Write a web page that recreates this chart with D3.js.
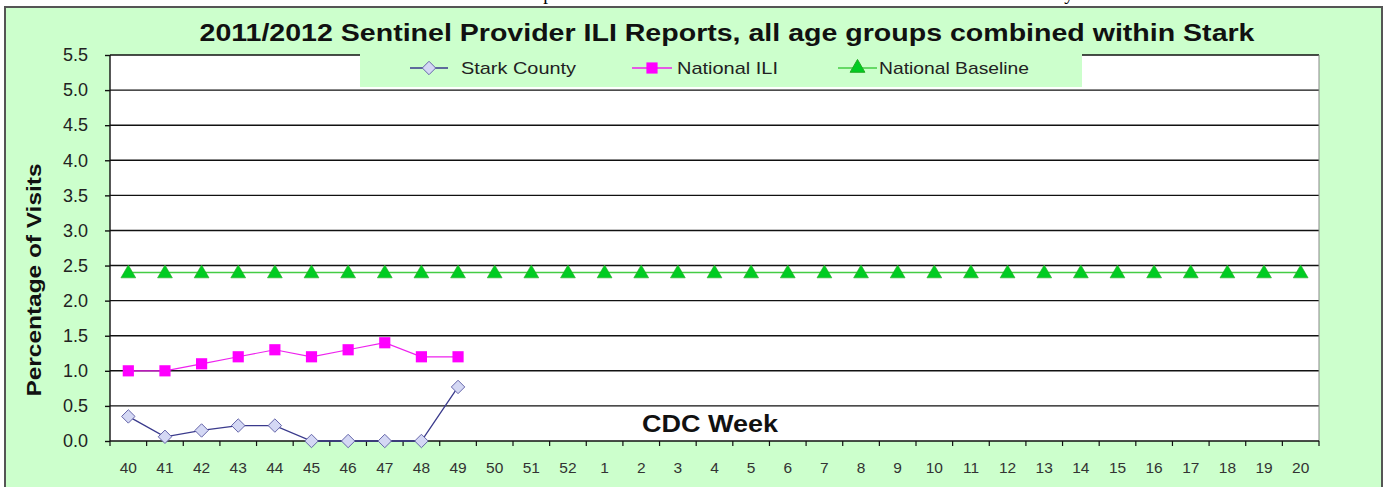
<!DOCTYPE html>
<html>
<head>
<meta charset="utf-8">
<script src="https://cdn.jsdelivr.net/npm/d3@7"></script>
<style>
  body { margin: 0; background: #fff; }
  svg text { font-family: Arial, "Liberation Sans", sans-serif; }
</style>
</head>
<body>
<svg id="chart" width="1386" height="487"></svg>
<script>
// CDC weeks of the 2011/2012 season
const weeks = ["40","41","42","43","44","45","46","47","48","49","50","51","52",
               "1","2","3","4","5","6","7","8","9","10","11","12","13","14","15","16","17","18","19","20"];

// series values (percent of visits)
const starkCounty = [0.35, 0.06, 0.15, 0.22, 0.22, 0.0, 0.0, 0.0, 0.0, 0.77];
const nationalILI = [1.0, 1.0, 1.1, 1.2, 1.3, 1.2, 1.3, 1.4, 1.2, 1.2];
const nationalBaseline = [2.4, 2.4, 2.4, 2.4, 2.4, 2.4, 2.4, 2.4, 2.4, 2.4, 2.4, 2.4, 2.4,
                          2.4, 2.4, 2.4, 2.4, 2.4, 2.4, 2.4, 2.4, 2.4, 2.4, 2.4, 2.4, 2.4,
                          2.4, 2.4, 2.4, 2.4, 2.4, 2.4, 2.4];

const yTicks = [0, 0.5, 1.0, 1.5, 2.0, 2.5, 3.0, 3.5, 4.0, 4.5, 5.0, 5.5];

const svg = d3.select('#chart');
const bg = '#ccffcc';

// plot region
const plotLeft = 110, plotRight = 1319, plotTop = 55, plotBottom = 441;

const x = d3.scaleBand().domain(weeks).range([plotLeft, plotRight]);
const y = d3.scaleLinear().domain([0, 5.5]).range([plotBottom, plotTop]);

// clipped line of text above the chart (only descenders visible, as in the source)
svg.append('text').attr('x', 548).attr('y', 0).attr('text-anchor', 'middle')
    .style('font-family', '"Liberation Serif", "Times New Roman", serif')
    .style('font-size', '19px').text('p');
svg.append('text').attr('x', 1069).attr('y', 0).attr('text-anchor', 'middle')
    .style('font-family', '"Liberation Serif", "Times New Roman", serif')
    .style('font-size', '19px').text('y');

// outer chart area
svg.append('rect')
    .attr('x', 5).attr('y', 7).attr('width', 1377).attr('height', 490)
    .attr('fill', bg).attr('stroke', '#555').attr('stroke-width', 2);

// plot background
svg.append('rect')
    .attr('x', plotLeft).attr('y', plotTop).attr('width', plotRight - plotLeft).attr('height', plotBottom - plotTop)
    .attr('fill', '#fff');

// gridlines
svg.append('g').selectAll('line')
    .data(yTicks.filter(d => d > 0))
    .enter().append('line')
    .attr('x1', plotLeft).attr('x2', plotRight)
    .attr('y1', d => y(d)).attr('y2', d => y(d))
    .attr('stroke', '#111').attr('stroke-width', 1.4);

// right edge of plot
svg.append('line')
    .attr('x1', plotRight).attr('x2', plotRight).attr('y1', plotTop).attr('y2', plotBottom)
    .attr('stroke', '#888').attr('stroke-width', 1);

// y axis
const yAxis = svg.append('g')
    .attr('transform', `translate(${plotLeft},0)`)
    .call(d3.axisLeft(y).tickValues(yTicks).tickFormat(d3.format('.1f')).tickSize(5).tickPadding(17));
yAxis.select('.domain').attr('stroke', '#111').attr('stroke-width', 1.4).attr('d', `M0,${plotTop}V${plotBottom}`);
yAxis.selectAll('.tick line').attr('stroke', '#111').attr('stroke-width', 1.4);
yAxis.selectAll('.tick text')
    .style('font-size', '18px').attr('fill', '#222')
    .attr('font-family', null);

// x axis: ticks between categories
const xAxis = svg.append('g');
xAxis.append('line')
    .attr('x1', plotLeft).attr('x2', plotRight).attr('y1', plotBottom).attr('y2', plotBottom)
    .attr('stroke', '#111').attr('stroke-width', 1.6);
xAxis.selectAll('line.tk')
    .data(weeks.concat(['end']))
    .enter().append('line').attr('class', 'tk')
    .attr('x1', d => d === 'end' ? plotRight : x(d))
    .attr('x2', d => d === 'end' ? plotRight : x(d))
    .attr('y1', plotBottom).attr('y2', plotBottom + 5)
    .attr('stroke', '#111').attr('stroke-width', 1.2);
xAxis.selectAll('text')
    .data(weeks)
    .enter().append('text')
    .attr('x', d => x(d) + x.bandwidth() / 2)
    .attr('y', 473)
    .attr('text-anchor', 'middle')
    .style('font-size', '15.5px').attr('fill', '#333')
    .text(d => d);

// lines + markers
const cx = (d, i) => x(weeks[i]) + x.bandwidth() / 2;
const line = d3.line().x(cx).y(d => y(d));

svg.append('path').datum(nationalBaseline)
    .attr('d', line).attr('fill', 'none').attr('stroke', '#44cc44').attr('stroke-width', 1.6);
svg.append('path').datum(nationalILI)
    .attr('d', line).attr('fill', 'none').attr('stroke', '#ee22ee').attr('stroke-width', 1.2);
svg.append('path').datum(starkCounty)
    .attr('d', line).attr('fill', 'none').attr('stroke', '#3a3a8c').attr('stroke-width', 1.3);

const tri = d3.symbol().type(d3.symbolTriangle).size(95);
const sq = d3.symbol().type(d3.symbolSquare).size(125);
const dia = d3.symbol().type(d3.symbolDiamond2).size(115);

svg.append('g').selectAll('path')
    .data(nationalBaseline).enter().append('path')
    .attr('d', tri)
    .attr('transform', (d, i) => `translate(${cx(d, i)},${y(d) + 1})`)
    .attr('fill', '#00cc22').attr('stroke', '#22aa22').attr('stroke-width', 0.6);
svg.append('g').selectAll('path')
    .data(nationalILI).enter().append('path')
    .attr('d', sq)
    .attr('transform', (d, i) => `translate(${cx(d, i)},${y(d)})`)
    .attr('fill', '#ff00ff');
svg.append('g').selectAll('path')
    .data(starkCounty).enter().append('path')
    .attr('d', dia)
    .attr('transform', (d, i) => `translate(${cx(d, i)},${y(d)})`)
    .attr('fill', '#d4d8f4').attr('stroke', '#6666aa').attr('stroke-width', 1);

// legend
const lg = svg.append('g');
lg.append('rect').attr('x', 360).attr('y', 54).attr('width', 722).attr('height', 33).attr('fill', bg);
const legendItems = [
    { name: 'Stark County', x0: 410, x1: 448, tx: 461, tw: 115, color: '#3a3a8c', sym: dia, fill: '#d4d8f4', stroke: '#6666aa' },
    { name: 'National ILI', x0: 632, x1: 672, tx: 677, tw: 101, color: '#ee22ee', sym: sq, fill: '#ff00ff', stroke: 'none' },
    { name: 'National Baseline', x0: 838, x1: 877, tx: 879, tw: 150, color: '#44cc44', sym: tri, fill: '#00cc22', stroke: '#22aa22' }
];
legendItems.forEach(it => {
    lg.append('line').attr('x1', it.x0).attr('x2', it.x1).attr('y1', 68).attr('y2', 68)
        .attr('stroke', it.color).attr('stroke-width', 1.4);
    lg.append('path').attr('d', it.sym).attr('transform', `translate(${(it.x0 + it.x1) / 2},68)`)
        .attr('fill', it.fill).attr('stroke', it.stroke);
    lg.append('text').attr('x', it.tx).attr('y', 74)
        .style('font-size', '17px').attr('fill', '#222')
        .attr('textLength', it.tw).attr('lengthAdjust', 'spacingAndGlyphs')
        .text(it.name);
});

// titles
svg.append('text').attr('x', 727).attr('y', 41).attr('text-anchor', 'middle')
    .style('font-size', '23px').style('font-weight', 'bold').attr('fill', '#111')
    .attr('textLength', 1055).attr('lengthAdjust', 'spacingAndGlyphs')
    .text('2011/2012 Sentinel Provider ILI Reports, all age groups combined within Stark');

svg.append('text').attr('transform', 'translate(41,280) rotate(-90)').attr('text-anchor', 'middle')
    .style('font-size', '21px').style('font-weight', 'bold').attr('fill', '#111')
    .attr('textLength', 233).attr('lengthAdjust', 'spacingAndGlyphs')
    .text('Percentage of Visits');

svg.append('text').attr('x', 710).attr('y', 432).attr('text-anchor', 'middle')
    .style('font-size', '23px').style('font-weight', 'bold').attr('fill', '#111')
    .attr('textLength', 136).attr('lengthAdjust', 'spacingAndGlyphs')
    .text('CDC Week');
</script>
</body>
</html>
